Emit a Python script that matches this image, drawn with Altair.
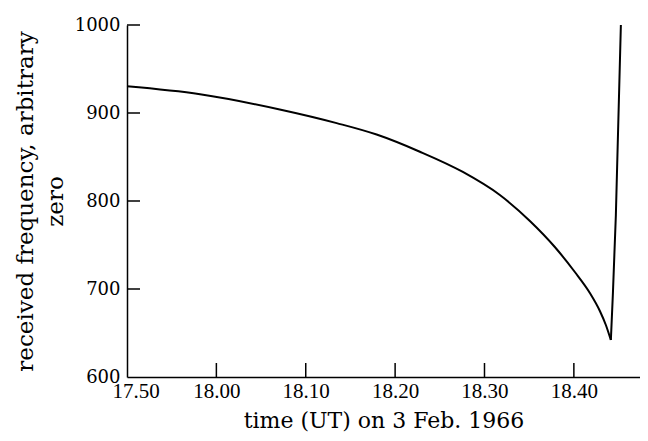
import altair as alt
import pandas as pd

# minutes after 17.50 UT; descending branch then the sharp rise
minutes = [0, 8.17, 17.09, 23.46, 27.93, 32.77, 37.58, 41.72, 45.08, 47.87, 50.11, 51.79, 52.91, 53.58, 54.14,
           54.14, 54.36, 54.7, 55.26]
frequency = [930.3, 921.3, 904, 888.5, 875.5, 856, 833, 806.8, 777.3, 747.7, 719.3, 695.5, 675, 659.1, 642,
             642, 693, 784, 1000]
branch = ["fall"] * 15 + ["rise"] * 4

x_tick_values = [0, 10, 20, 30, 40, 50]
x_tick_labels = ["17.50", "18.00", "18.10", "18.20", "18.30", "18.40"]
y_tick_values = [600, 700, 800, 900, 1000]

curve = pd.DataFrame({"t": minutes, "f": frequency, "b": branch})
yt = pd.DataFrame({"f": y_tick_values[1:]})
xt = pd.DataFrame({"t": x_tick_values[1:]})

W, H = 513, 352
label_expr = "[" + ",".join("'%s'" % s for s in x_tick_labels) + "][round(datum.value/10)]"

xscale = alt.Scale(domain=[0, 57.4], nice=False, zero=False)
yscale = alt.Scale(domain=[600, 1000], nice=False, zero=False)

xaxis = alt.Axis(values=x_tick_values, labelExpr=label_expr, title="time (UT) on 3 Feb. 1966",
                 labelFont="Liberation Serif, Times New Roman, serif", labelFontSize=21, labelPadding=3,
                 labelFlush=True, labelFlushOffset=15, titleFont="DejaVu Serif", titleFontSize=22,
                 titleFontWeight="normal", titleBaseline="alphabetic", titleY=50,
                 titleX=W / 2)
yaxis = alt.Axis(values=y_tick_values, format="d", title=["received frequency, arbitrary", "zero"],
                 labelFont="DejaVu Serif", labelFontSize=18, labelPadding=7,
                 titleFont="DejaVu Serif", titleFontSize=23, titleFontWeight="normal",
                 titleAngle=270, titleAlign="center", titleBaseline="middle",
                 titleLineHeight=30, titleX=-102, titleY=H / 2)

fall = alt.Chart(curve).transform_filter(alt.datum.b == "fall").mark_line(
    color="black", strokeWidth=2, interpolate="monotone").encode(
    x=alt.X("t:Q", scale=xscale, axis=xaxis),
    y=alt.Y("f:Q", scale=yscale, axis=yaxis),
)
rise = alt.Chart(curve).transform_filter(alt.datum.b == "rise").mark_line(
    color="black", strokeWidth=2, interpolate="monotone").encode(
    x=alt.X("t:Q", scale=xscale),
    y=alt.Y("f:Q", scale=yscale),
)

ytick = alt.Chart(yt).mark_rule(color="black", strokeWidth=1.5).encode(
    y=alt.Y("f:Q", scale=yscale), x=alt.value(0), x2=alt.value(13)
)
xtick = alt.Chart(xt).mark_rule(color="black", strokeWidth=1.5).encode(
    x=alt.X("t:Q", scale=xscale), y=alt.value(H), y2=alt.value(H - 14)
)

chart = alt.layer(fall, rise, ytick, xtick).properties(
    width=W, height=H,
    autosize=alt.AutoSizeParams(type="none"),
    padding={"left": 119, "top": 17, "right": 0, "bottom": 56},
    background="white",
).configure_view(stroke=None).configure_axis(
    grid=False, ticks=False, domainColor="black", domainWidth=1.5,
    labelColor="black", titleColor="black",
)

chart.save("out.html", embed_options={"renderer": "svg", "actions": False})
